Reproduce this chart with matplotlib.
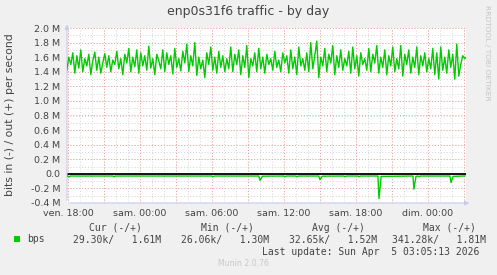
import numpy as np
import matplotlib.pyplot as plt

W, H = 497, 275

# time in hours from Fri 18:00, 10 min steps for the "out" series
out_start = -0.1
out_step = 1 / 6
bps_out = [
    1.42, 1.60, 1.50, 1.66, 1.38, 1.62, 1.45, 1.70, 1.40, 1.58, 1.48, 1.64, 1.36, 1.55, 1.67, 1.42, 1.60, 1.38, 1.52, 1.65,
    1.46, 1.62, 1.40, 1.56, 1.50, 1.68, 1.44, 1.58, 1.36, 1.64, 1.52, 1.72, 1.40, 1.60, 1.47, 1.70, 1.38, 1.66, 1.48, 1.62,
    1.42, 1.75, 1.45, 1.58, 1.36, 1.64, 1.55, 1.44, 1.70, 1.40, 1.66, 1.50, 1.62, 1.37, 1.72, 1.46, 1.58, 1.41, 1.68, 1.52,
    1.78, 1.40, 1.62, 1.48, 1.80, 1.35, 1.60, 1.44, 1.56, 1.32, 1.66, 1.50, 1.74, 1.42, 1.60, 1.38, 1.68, 1.46, 1.62, 1.40,
    1.58, 1.44, 1.74, 1.40, 1.64, 1.50, 1.70, 1.36, 1.62, 1.46, 1.76, 1.32, 1.58, 1.48, 1.66, 1.40, 1.72, 1.44, 1.60, 1.38,
    1.64, 1.50, 1.58, 1.42, 1.68, 1.46, 1.56, 1.40, 1.66, 1.52, 1.62, 1.38, 1.70, 1.44, 1.60, 1.36, 1.74, 1.48, 1.58, 1.42,
    1.66, 1.40, 1.80, 1.44, 1.62, 1.82, 1.32, 1.60, 1.48, 1.72, 1.40, 1.64, 1.52, 1.76, 1.36, 1.62, 1.46, 1.70, 1.42, 1.58,
    1.48, 1.68, 1.38, 1.74, 1.44, 1.62, 1.34, 1.66, 1.50, 1.58, 1.42, 1.72, 1.40, 1.64, 1.52, 1.76, 1.38, 1.60, 1.46, 1.70,
    1.36, 1.62, 1.48, 1.74, 1.40, 1.58, 1.44, 1.76, 1.34, 1.64, 1.50, 1.70, 1.38, 1.60, 1.46, 1.74, 1.36, 1.62, 1.48, 1.66,
    1.40, 1.58, 1.44, 1.72, 1.36, 1.66, 1.30, 1.74, 1.42, 1.60, 1.38, 1.70, 1.46, 1.64, 1.30, 1.78, 1.34, 1.50, 1.62, 1.58, 1.61,
]

# "in" series (drawn negative), sparse points: flat baseline with dips
in_t = [-0.1, 0.0, 0.08, 0.2, 3.75, 3.83, 3.95, 12.0, 12.08, 12.2, 15.9, 16.0, 16.2,
        18.0, 18.08, 18.2, 19.0, 19.08, 19.2, 20.9, 21.0, 21.2, 23.0, 23.08, 23.2,
        24.17, 24.25, 24.37, 25.83, 25.92, 26.1, 28.75, 28.83, 29.0, 29.17, 29.25, 29.37,
        31.83, 31.92, 32.1, 33.08]
in_v = [-0.030, -0.030, -0.045, -0.030, -0.030, -0.040, -0.030, -0.030, -0.040, -0.030, -0.030, -0.090, -0.032,
        -0.030, -0.040, -0.030, -0.030, -0.040, -0.030, -0.030, -0.080, -0.032, -0.030, -0.040, -0.030,
        -0.030, -0.040, -0.030, -0.030, -0.340, -0.035, -0.030, -0.210, -0.035, -0.030, -0.040, -0.030,
        -0.030, -0.120, -0.035, -0.029]

y_ticks = [2.0, 1.8, 1.6, 1.4, 1.2, 1.0, 0.8, 0.6, 0.4, 0.2, 0.0, -0.2, -0.4]
y_labels = ['2.0 M', '1.8 M', '1.6 M', '1.4 M', '1.2 M', '1.0 M', '0.8 M', '0.6 M',
            '0.4 M', '0.2 M', '0.0', '-0.2 M', '-0.4 M']
x_ticks = [0, 6, 12, 18, 24, 30]
x_labels = ['ven. 18:00', 'sam. 00:00', 'sam. 06:00', 'sam. 12:00', 'sam. 18:00', 'dim. 00:00']

GREEN = '#00CC00'
TXT = '#444444'
AXC = '#C8C8F0'


def px(x, y):
    return x / W, 1 - y / H


fig = plt.figure(figsize=(W / 100, H / 100), dpi=100, facecolor='#F0F0F0')
ax = fig.add_axes([67 / W, 72 / H, 399 / W, 175 / H])
ax.set_facecolor('white')
ax.set_xlim(-0.083, 33.17)
ax.set_ylim(-0.4, 2.0)

# grid: minor gray, major red
for h in np.arange(0, 34, 1):
    ax.axvline(h, color='#D4D4D4', lw=0.7, ls=(0, (1, 2)), zorder=1)
for v in np.arange(-0.4, 2.01, 0.1):
    ax.axhline(v, color='#D4D4D4', lw=0.7, ls=(0, (1, 2)), zorder=1)
for h in np.arange(0, 34, 3):
    ax.axvline(h, color='#F0A0A0', lw=0.7, ls=(0, (1, 2)), zorder=2)
for v in y_ticks:
    ax.axhline(v, color='#F0A0A0', lw=0.7, ls=(0, (1, 2)), zorder=2)

t_out = out_start + out_step * np.arange(len(bps_out))
ax.plot(t_out, bps_out, color=GREEN, lw=1.0, zorder=4)
ax.axhline(0, color='black', lw=1.3, zorder=3)
ax.plot(in_t, in_v, color=GREEN, lw=1.0, zorder=4)

for s in ax.spines.values():
    s.set_visible(False)
ax.set_xticks(x_ticks)
ax.set_xticklabels(x_labels)
ax.set_yticks(y_ticks)
ax.set_yticklabels(y_labels)
ax.tick_params(length=0, labelsize=6.8, colors=TXT, pad=5)
ax.tick_params(axis='x', pad=4)

# axis lines with arrows
ax.annotate('', xy=(0, 1.035), xytext=(0, 0), xycoords='axes fraction',
            arrowprops=dict(arrowstyle='-|>', color=AXC, lw=0.8, mutation_scale=6), annotation_clip=False)
ax.annotate('', xy=(1.015, 0), xytext=(0, 0), xycoords='axes fraction',
            arrowprops=dict(arrowstyle='-|>', color=AXC, lw=0.8, mutation_scale=6), annotation_clip=False)

fig.text(*px(248.5, 12), 'enp0s31f6 traffic - by day', ha='center', va='center', fontsize=9, color=TXT)
fig.text(*px(10.5, 115), 'bits in (-) / out (+) per second', ha='center', va='center',
         rotation=90, fontsize=7.8, color=TXT)
fig.text(*px(487, 53), 'RRDTOOL / TOBI OETIKER', ha='center', va='center', rotation=270,
         fontsize=5.4, color='#C4C4C4')

mono = dict(family='DejaVu Sans Mono', fontsize=7.0, color=TXT, va='center', ha='left')
fig.text(*px(89, 228), 'Cur (-/+)', **mono)
fig.text(*px(201, 228), 'Min (-/+)', **mono)
fig.text(*px(312, 228), 'Avg (-/+)', **mono)
fig.text(*px(423, 228), 'Max (-/+)', **mono)
fig.patches.append(plt.Rectangle(px(14, 242), 6 / W, 6 / H, transform=fig.transFigure,
                                 facecolor=GREEN, edgecolor='none'))
fig.text(*px(27, 239.5), 'bps', **mono)
fig.text(*px(73, 239.5), '29.30k/   1.61M', **mono)
fig.text(*px(181, 239.5), '26.06k/   1.30M', **mono)
fig.text(*px(289, 239.5), '32.65k/   1.52M', **mono)
fig.text(*px(392, 239.5), '341.28k/   1.81M', **mono)
fig.text(*px(262, 252), 'Last update: Sun Apr  5 03:05:13 2026', **mono)
fig.text(*px(243, 264), 'Munin 2.0.76', ha='center', va='center', fontsize=5.6, color='#C8C8C8')

fig.savefig('out.png', dpi=100, facecolor=fig.get_facecolor())
